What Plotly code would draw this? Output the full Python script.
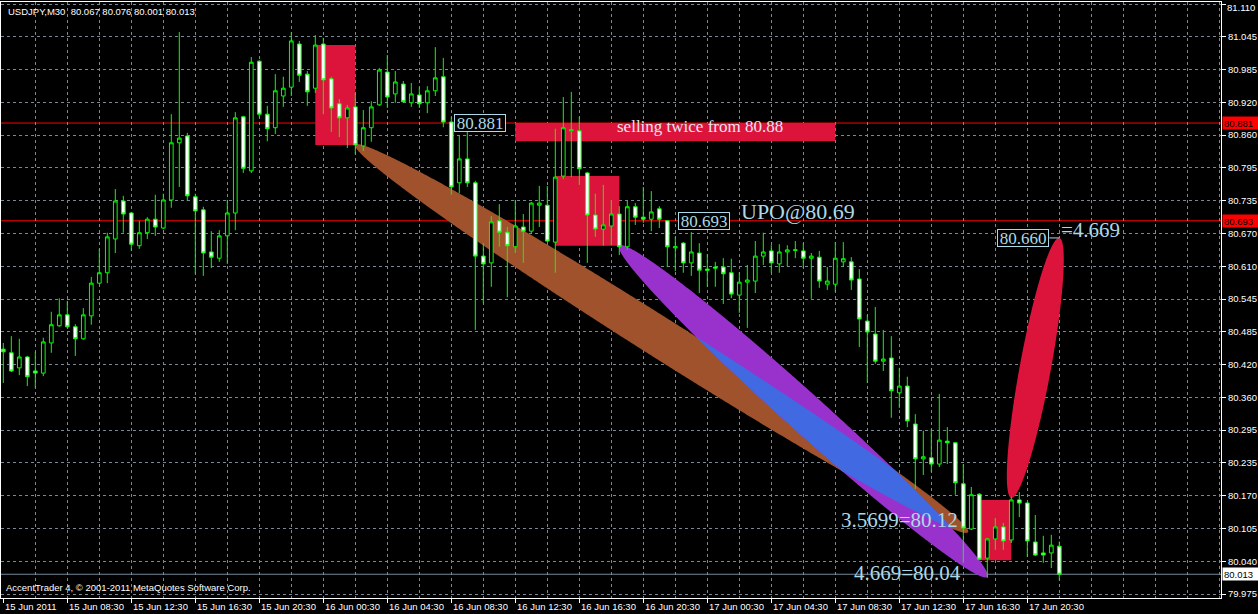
import numpy as np
import plotly.graph_objects as go

# ---------------- data ----------------
TITLE = "USDJPY,M30  80.067 80.076 80.001 80.013"
COPYRIGHT = "AccentTrader 4, © 2001-2011 MetaQuotes Software Corp."

opens = [
    80.446, 80.439, 80.410, 80.431, 80.404, 80.400, 80.458, 80.491, 80.512, 80.489,
    80.466, 80.510, 80.573, 80.593, 80.658, 80.731, 80.708, 80.645, 80.670, 80.696,
    80.679, 80.733, 80.843, 80.856, 80.739, 80.714, 80.633, 80.621, 80.664, 80.708,
    80.893, 80.789, 81.000, 80.898, 80.872, 80.933, 80.950, 81.033, 80.975, 80.948,
    81.033, 80.966, 80.918, 80.891, 80.912, 80.837, 80.872, 80.916, 80.979, 80.937,
    80.956, 80.920, 80.935, 80.920, 80.943, 80.970, 80.883, 80.766, 80.812, 80.766,
    80.625, 80.612, 80.693, 80.671, 80.643, 80.681, 80.673, 80.723, 80.723, 80.652,
    80.779, 80.866, 80.866, 80.785, 80.704, 80.677, 80.683, 80.706, 80.643, 80.720,
    80.700, 80.696, 80.716, 80.693, 80.641, 80.650, 80.612, 80.631, 80.600, 80.604,
    80.604, 80.593, 80.550, 80.575, 80.577, 80.625, 80.635, 80.610, 80.633, 80.636,
    80.635, 80.621, 80.623, 80.571, 80.571, 80.614, 80.614, 80.581, 80.500, 80.475,
    80.423, 80.429, 80.362, 80.375, 80.302, 80.235, 80.237, 80.225, 80.269, 80.266,
    80.187, 80.100, 80.167, 80.044, 80.081, 80.104, 80.079, 80.156, 80.150, 80.075,
    80.054, 80.054, 80.067]
highs = [
    80.458, 80.471, 80.466, 80.433, 80.441, 80.468, 80.518, 80.544, 80.539, 80.494,
    80.525, 80.585, 80.639, 80.670, 80.754, 80.741, 80.710, 80.693, 80.700, 80.743,
    80.745, 80.898, 81.056, 80.862, 80.745, 80.720, 80.673, 80.675, 80.733, 80.902,
    80.895, 81.008, 81.002, 80.914, 80.975, 80.970, 81.056, 81.039, 80.981, 81.050,
    81.045, 80.970, 80.927, 80.916, 80.939, 80.906, 80.923, 80.987, 81.012, 80.981,
    80.962, 80.958, 80.950, 80.952, 81.027, 81.006, 80.893, 80.856, 80.868, 80.770,
    80.650, 80.702, 80.725, 80.681, 80.733, 80.706, 80.729, 80.760, 80.760, 80.870,
    80.931, 80.941, 80.893, 80.787, 80.745, 80.762, 80.733, 80.721, 80.731, 80.727,
    80.758, 80.750, 80.721, 80.694, 80.662, 80.652, 80.671, 80.650, 80.629, 80.614,
    80.621, 80.620, 80.594, 80.608, 80.654, 80.670, 80.646, 80.648, 80.646, 80.654,
    80.650, 80.631, 80.635, 80.604, 80.652, 80.652, 80.623, 80.600, 80.512, 80.527,
    80.483, 80.471, 80.410, 80.393, 80.321, 80.289, 80.292, 80.360, 80.296, 80.267,
    80.225, 80.181, 80.169, 80.083, 80.121, 80.112, 80.162, 80.171, 80.152, 80.127,
    80.087, 80.089, 80.076]
lows = [
    80.381, 80.402, 80.396, 80.375, 80.371, 80.394, 80.439, 80.489, 80.487, 80.433,
    80.464, 80.493, 80.571, 80.573, 80.631, 80.670, 80.635, 80.639, 80.658, 80.664,
    80.677, 80.718, 80.758, 80.731, 80.591, 80.587, 80.602, 80.614, 80.610, 80.675,
    80.785, 80.785, 80.891, 80.846, 80.860, 80.912, 80.933, 80.960, 80.914, 80.939,
    80.898, 80.864, 80.854, 80.833, 80.821, 80.827, 80.845, 80.914, 80.910, 80.920,
    80.920, 80.912, 80.910, 80.900, 80.933, 80.873, 80.743, 80.746, 80.758, 80.483,
    80.535, 80.566, 80.643, 80.546, 80.631, 80.612, 80.668, 80.681, 80.652, 80.593,
    80.773, 80.777, 80.762, 80.612, 80.662, 80.645, 80.646, 80.627, 80.637, 80.685,
    80.689, 80.673, 80.679, 80.604, 80.596, 80.593, 80.587, 80.554, 80.566, 80.566,
    80.533, 80.544, 80.516, 80.487, 80.554, 80.608, 80.593, 80.593, 80.606, 80.621,
    80.602, 80.543, 80.564, 80.560, 80.556, 80.604, 80.560, 80.450, 80.381, 80.418,
    80.404, 80.314, 80.333, 80.296, 80.177, 80.204, 80.210, 80.219, 80.225, 80.166,
    80.035, 80.098, 80.040, 80.006, 80.060, 80.060, 80.073, 80.123, 80.046, 80.048,
    80.035, 80.025, 80.001]
closes = [
    80.441, 80.404, 80.431, 80.393, 80.400, 80.460, 80.493, 80.512, 80.489, 80.466,
    80.512, 80.573, 80.593, 80.662, 80.731, 80.706, 80.648, 80.670, 80.696, 80.681,
    80.733, 80.843, 80.852, 80.741, 80.712, 80.631, 80.623, 80.664, 80.708, 80.891,
    80.794, 80.998, 80.898, 80.870, 80.943, 80.948, 81.039, 80.973, 80.941, 81.031,
    80.964, 80.910, 80.891, 80.910, 80.839, 80.872, 80.912, 80.983, 80.931, 80.960,
    80.922, 80.937, 80.918, 80.943, 80.968, 80.883, 80.758, 80.812, 80.766, 80.625,
    80.610, 80.691, 80.671, 80.645, 80.683, 80.673, 80.727, 80.727, 80.654, 80.777,
    80.872, 80.868, 80.793, 80.704, 80.677, 80.685, 80.706, 80.643, 80.720, 80.700,
    80.696, 80.710, 80.696, 80.643, 80.643, 80.612, 80.633, 80.598, 80.598, 80.602,
    80.591, 80.552, 80.575, 80.579, 80.625, 80.633, 80.612, 80.633, 80.637, 80.637,
    80.621, 80.625, 80.577, 80.577, 80.621, 80.620, 80.579, 80.504, 80.479, 80.423,
    80.427, 80.366, 80.375, 80.308, 80.235, 80.239, 80.225, 80.271, 80.266, 80.189,
    80.102, 80.166, 80.042, 80.081, 80.104, 80.077, 80.156, 80.150, 80.077, 80.050,
    80.050, 80.069, 80.013]

x_tick_labels = ["15 Jun 2011", "15 Jun 08:30", "15 Jun 12:30", "15 Jun 16:30",
                 "15 Jun 20:30", "16 Jun 00:30", "16 Jun 04:30", "16 Jun 08:30",
                 "16 Jun 12:30", "16 Jun 16:30", "16 Jun 20:30", "17 Jun 00:30",
                 "17 Jun 04:30", "17 Jun 08:30", "17 Jun 12:30", "17 Jun 16:30",
                 "17 Jun 20:30"]
y_tick_labels = ["81.110", "81.045", "80.985", "80.920", "80.860", "80.795", "80.735",
                 "80.670", "80.610", "80.545", "80.485", "80.420", "80.360", "80.295",
                 "80.235", "80.170", "80.105", "80.040", "79.975"]

level_lines = [80.881, 80.693]
bid_price = 80.013

# rectangles: (bar from, bar to, price top, price bottom)
rectangles = [(39, 44, 81.031, 80.839),
              (64, 104, 80.881, 80.846),
              (69, 77, 80.779, 80.645),
              (122, 126, 80.156, 80.040)]

# ellipses: (bar1, price1), (bar2, price2), minor/major ratio
ellipse_brown = ((44.0, 80.839), (120.6, 80.094), 0.055)
ellipse_purple = ((77.0, 80.645), (123.0, 80.008), 0.078)
ellipse_red = ((126.0, 80.160), (132.0, 80.660), 0.118)

# ---------------- layout geometry ----------------
W, H = 1258, 614
ML, MR, MT, MB = 1, 37, 2, 16
PLOT_W, PLOT_H = W - ML - MR, H - MT - MB
X_RANGE = [-0.2875, 152.2125]
Y_RANGE = [79.96733, 81.11385]
SX = PLOT_W / (X_RANGE[1] - X_RANGE[0])
SY = PLOT_H / (Y_RANGE[1] - Y_RANGE[0])

bars = list(range(len(closes)))
tick_bars = bars[0:len(x_tick_labels) * 8:8]
grid_bars = list(range(4, int(X_RANGE[1]) + 1, 4))
n_y = len(y_tick_labels)
y_tick_vals = list(np.linspace(float(y_tick_labels[0]), float(y_tick_labels[-1]), n_y))
# the top label sits at the very edge; it is drawn separately as an annotation
y_tick_text = [""] + y_tick_labels[1:]


def ell_params(e):
    (b1, p1), (b2, p2), ratio = e
    x1, y1, x2, y2 = b1 * SX, p1 * SY, b2 * SX, p2 * SY
    cx, cy = (x1 + x2) / 2, (y1 + y2) / 2
    a = np.hypot(x2 - x1, y2 - y1) / 2
    ux, uy = (x2 - x1) / (2 * a), (y2 - y1) / (2 * a)
    return cx, cy, a, a * ratio, ux, uy


def ell_points(e, n=1440):
    cx, cy, a, b, ux, uy = ell_params(e)
    t = np.linspace(0, 2 * np.pi, n, endpoint=False)
    px = cx + a * np.cos(t) * ux - b * np.sin(t) * uy
    py = cy + a * np.cos(t) * uy + b * np.sin(t) * ux
    return px, py


def inside(e, px, py):
    cx, cy, a, b, ux, uy = ell_params(e)
    dx, dy = px - cx, py - cy
    s = (dx * ux + dy * uy) / a
    r = (-dx * uy + dy * ux) / b
    return s * s + r * r <= 1.0


def to_path(px, py):
    xs, ys = px / SX, py / SY
    parts = [f"{x:.4f},{y:.5f}" for x, y in zip(xs, ys)]
    return "M" + "L".join(parts) + "Z"


def intersection_path(e1, e2):
    ax, ay = ell_points(e1, 4000)
    bx, by = ell_points(e2, 4000)
    ma = inside(e2, ax, ay)
    mb = inside(e1, bx, by)
    px = np.concatenate([ax[ma], bx[mb]])
    py = np.concatenate([ay[ma], by[mb]])
    cx, cy = px.mean(), py.mean()
    order = np.argsort(np.arctan2(py - cy, px - cx))
    return to_path(px[order], py[order])


shapes = []
for e, col in [(ellipse_brown, "#A0522D"), (ellipse_purple, "#9932CC")]:
    shapes.append(dict(type="path", path=to_path(*ell_points(e)), xref="x", yref="y",
                       fillcolor=col, line=dict(width=0), layer="between"))
shapes.append(dict(type="path", path=intersection_path(ellipse_brown, ellipse_purple),
                   xref="x", yref="y", fillcolor="#4169E1", line=dict(width=0),
                   layer="between"))
for (b0, b1, pt, pb) in rectangles:
    shapes.append(dict(type="rect", x0=b0, x1=b1, y0=pb, y1=pt, xref="x", yref="y",
                       fillcolor="#DC143C", line=dict(width=0), layer="between"))
shapes.append(dict(type="path", path=to_path(*ell_points(ellipse_red)), xref="x", yref="y",
                   fillcolor="#DC143C", line=dict(width=0), layer="between"))
for lv in level_lines:
    shapes.append(dict(type="line", x0=0, x1=1, xref="paper", y0=lv, y1=lv, yref="y",
                       line=dict(color="#FF0000", width=1), layer="between"))
shapes.append(dict(type="line", x0=0, x1=1, xref="paper", y0=bid_price, y1=bid_price,
                   yref="y", line=dict(color="#778899", width=1), layer="between"))
shapes.append(dict(type="line", x0=130.75, x1=132.0, y0=80.660, y1=80.660, xref="x", yref="y",
                   line=dict(color="#ADD8E6", width=1), layer="above"))

LB = "#ADD8E6"
SANS = "Liberation Sans"
SERIF = "Liberation Serif"
FS = 9.5
annots = []
for b, t in zip(tick_bars, x_tick_labels):
    annots.append(dict(x=b, xref="x", y=0, yref="paper", xanchor="left", yanchor="top",
                       xshift=0, yshift=-1, text=t, showarrow=False,
                       font=dict(family=SANS, size=FS, color="white")))
annots.append(dict(x=0, xref="paper", y=1, yref="paper", xanchor="left", yanchor="top",
                   xshift=5, yshift=-2, text=TITLE, showarrow=False,
                   font=dict(family=SANS, size=FS, color="white")))
annots.append(dict(x=0, xref="paper", y=0, yref="paper", xanchor="left", yanchor="bottom",
                   xshift=3, yshift=3, text=COPYRIGHT, showarrow=False,
                   font=dict(family=SANS, size=FS, color="white")))
# top price-scale label (kept inside the page)
annots.append(dict(x=1, xref="paper", y=1, yref="paper", xanchor="left", yanchor="top",
                   xshift=4, yshift=2, text=y_tick_labels[0], showarrow=False,
                   font=dict(family=SANS, size=FS, color="white")))
# price labels on the axis
for lv in level_lines:
    annots.append(dict(x=1, xref="paper", y=lv, yref="y", xanchor="left", yanchor="middle",
                       xshift=1, text=f"{lv:.3f}", showarrow=False, bgcolor="#FF0000",
                       width=34, height=10, borderpad=1, align="left",
                       font=dict(family=SANS, size=FS, color="black")))
annots.append(dict(x=1, xref="paper", y=bid_price, yref="y", xanchor="left", yanchor="middle",
                   xshift=1, text=f"{bid_price:.3f}", showarrow=False, bgcolor="white",
                   width=34, height=10, borderpad=1, align="left",
                   font=dict(family=SANS, size=FS, color="black")))
# boxed price labels
for bx, pv in [(56.34, 80.881), (84.34, 80.693), (124.21, 80.660)]:
    annots.append(dict(x=bx, xref="x", y=pv, yref="y", xanchor="left", yanchor="middle",
                       text=f"{pv:.3f}", showarrow=False, bgcolor="black",
                       bordercolor=LB, borderwidth=1, borderpad=0, width=50, height=16,
                       font=dict(family=SERIF, size=17, color=LB)))
# free texts
for bx, pv, txt, sz, col in [(76.6, 80.875, "selling twice from 80.88", 17, "#E8E4F0"),
                             (92.1, 80.710, "UPO@80.69", 22, LB),
                             (104.6, 80.118, "3.5699=80.12", 21, LB),
                             (106.2, 80.016, "4.669=80.04", 21, LB),
                             (132.1, 80.676, "=4.669", 21, LB)]:
    annots.append(dict(x=bx, xref="x", y=pv, yref="y", xanchor="left", yanchor="middle",
                       text=txt, showarrow=False, borderpad=0,
                       font=dict(family=SERIF, size=sz, color=col)))

fig = go.Figure()
fig.add_trace(go.Candlestick(
    x=bars, open=opens, high=highs, low=lows, close=closes,
    increasing=dict(line=dict(color="#00FF00", width=1), fillcolor="#000000"),
    decreasing=dict(line=dict(color="#00FF00", width=1), fillcolor="#FFFFFF"),
    whiskerwidth=0, hoverinfo="skip", showlegend=False))

GRID = "#778899"
fig.update_layout(
    width=W, height=H, margin=dict(l=ML, r=MR, t=MT, b=MB, pad=0, autoexpand=False),
    paper_bgcolor="black", plot_bgcolor="black", showlegend=False, boxgap=0.34,
    shapes=shapes, annotations=annots,
    xaxis=dict(range=X_RANGE, fixedrange=True, rangeslider=dict(visible=False),
               automargin=False,
               showline=True, mirror=True, linecolor="white", linewidth=1,
               tickmode="array", tickvals=tick_bars, ticks="outside", ticklen=4,
               tickcolor="white", tickwidth=1, showticklabels=False,
               showgrid=False, zeroline=False,
               minor=dict(tickmode="array", tickvals=grid_bars, showgrid=True,
                          gridcolor=GRID, griddash="3px,3px", gridwidth=1, ticks="")),
    yaxis=dict(range=Y_RANGE, fixedrange=True, side="right", automargin=False,
               showline=True, mirror=True, linecolor="white", linewidth=1,
               tickmode="array", tickvals=y_tick_vals, ticktext=y_tick_text,
               ticks="outside", ticklen=4, tickcolor="white", tickwidth=1,
               ticklabeloverflow="allow",
               tickfont=dict(family=SANS, size=FS, color="white"),
               showgrid=True, gridcolor=GRID, griddash="3px,3px", gridwidth=1,
               zeroline=False),
)

fig.write_html("out.html", config={"displayModeBar": False},
               post_script="document.body.style.margin='0';document.body.style.overflow='hidden';")
